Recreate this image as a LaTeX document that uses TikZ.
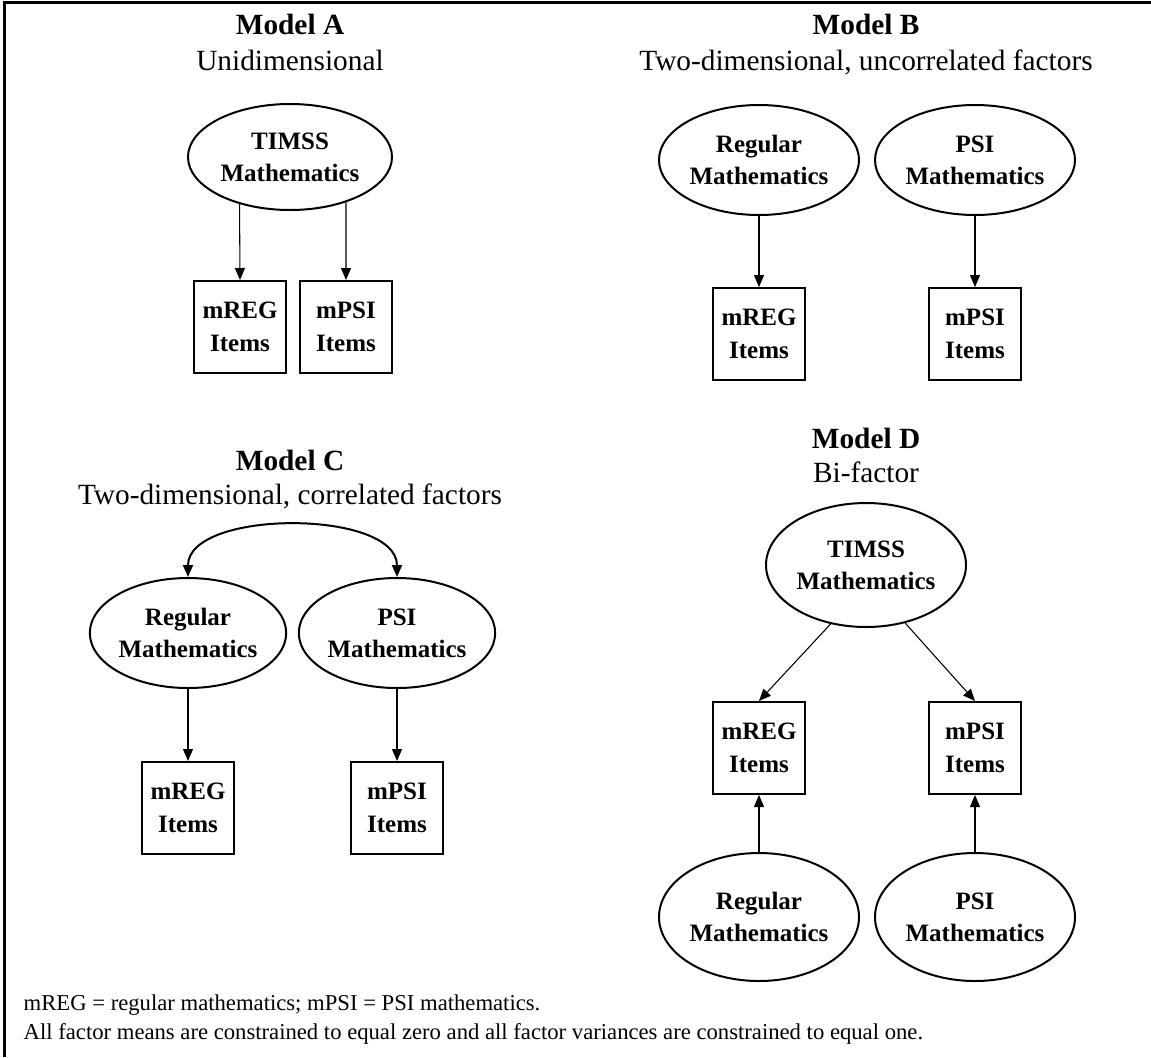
\documentclass[tikz,border=0pt]{standalone}
\usepackage{fontspec}
\setmainfont{Liberation Serif}
\usetikzlibrary{shapes.geometric,arrows.meta}

\tikzset{
  >={Triangle[length=9pt,width=7.5pt]},
  latent/.style={ellipse,draw,line width=1.5pt,inner sep=0pt,align=center,
    minimum width=150pt,minimum height=82.5pt,
    font=\fontsize{18.75}{24}\selectfont\bfseries},
  indicator/.style={rectangle,draw,line width=1.5pt,inner sep=0pt,align=center,
    minimum width=69pt,minimum height=69pt,
    font=\fontsize{18.75}{25}\selectfont\bfseries},
  loading/.style={->,line width=0.8pt},
  modeltitle/.style={anchor=base,font=\fontsize{22}{26}\selectfont\bfseries},
  modelsub/.style={anchor=base,font=\fontsize{22}{26}\selectfont},
  footnote/.style={anchor=base west,font=\fontsize{17}{21}\selectfont},
}

\begin{document}
\begin{tikzpicture}[x=0.75pt,y=-0.75pt]
  \useasboundingbox (0,0) rectangle (1151,1057);

  % Frame (top and left only)
  \draw[line width=2.25pt] (4,1057) -- (4,2) -- (1151,2);

  % Model A
  \node[modeltitle] (titleA) at (290,34) {Model A};
  \node[modelsub] (subA) at (290,70) {Unidimensional};
  \node[latent,minimum width=153pt,minimum height=79.5pt] (ellA) at (290,157) {TIMSS\\Mathematics};
  \node[indicator] (boxA1) at (240,327) {mREG\\Items};
  \node[indicator] (boxA2) at (346,327) {mPSI\\Items};
  \draw[loading] (ellA.223.36) -- (boxA1.north);
  \draw[loading] (ellA.321.03) -- (boxA2.north);

  % Model B
  \node[modeltitle] (titleB) at (866,34) {Model B};
  \node[modelsub] (subB) at (866,70) {Two-dimensional, uncorrelated factors};
  \node[latent] (ellB1) at (759,160) {Regular\\Mathematics};
  \node[latent] (ellB2) at (975,160) {PSI\\Mathematics};
  \node[indicator] (boxB1) at (759,334) {mREG\\Items};
  \node[indicator] (boxB2) at (975,334) {mPSI\\Items};
  \draw[loading] (ellB1.south) -- (boxB1.north);
  \draw[loading] (ellB2.south) -- (boxB2.north);

  % Model C
  \node[modeltitle] (titleC) at (290,470) {Model C};
  \node[modelsub] (subC) at (290,504) {Two-dimensional, correlated factors};
  \node[latent,minimum width=147pt] (ellC1) at (188,633) {Regular\\Mathematics};
  \node[latent,minimum width=147pt] (ellC2) at (397,633) {PSI\\Mathematics};
  \node[indicator] (boxC1) at (188,808) {mREG\\Items};
  \node[indicator] (boxC2) at (397,808) {mPSI\\Items};
  \draw[loading] (ellC1.south) -- (boxC1.north);
  \draw[loading] (ellC2.south) -- (boxC2.north);
  % correlation between the two factors
  \draw[<->,line width=1.5pt] (ellC1.north) .. controls +(0,-68) and +(0,-68) .. (ellC2.north);

  % Model D
  \node[modeltitle] (titleD) at (866,448) {Model D};
  \node[modelsub] (subD) at (866,482) {Bi-factor};
  \node[latent,minimum height=93pt] (ellD) at (866,565) {TIMSS\\Mathematics};
  \node[indicator] (boxD1) at (759,748) {mREG\\Items};
  \node[indicator] (boxD2) at (975,748) {mPSI\\Items};
  \node[latent,minimum height=96pt] (ellD1) at (759,917) {Regular\\Mathematics};
  \node[latent,minimum height=96pt] (ellD2) at (975,917) {PSI\\Mathematics};
  \draw[loading] (ellD.239.7) -- (boxD1.north);
  \draw[loading] (ellD.304.3) -- (boxD2.north);
  \draw[loading] (ellD1.north) -- (boxD1.south);
  \draw[loading] (ellD2.north) -- (boxD2.south);

  % Notes
  \node[footnote] (note1) at (19,1010) {mREG = regular mathematics; mPSI = PSI mathematics.};
  \node[footnote] (note2) at (19,1039) {All factor means are constrained to equal zero and all factor variances are constrained to equal one.};
\end{tikzpicture}
\end{document}
